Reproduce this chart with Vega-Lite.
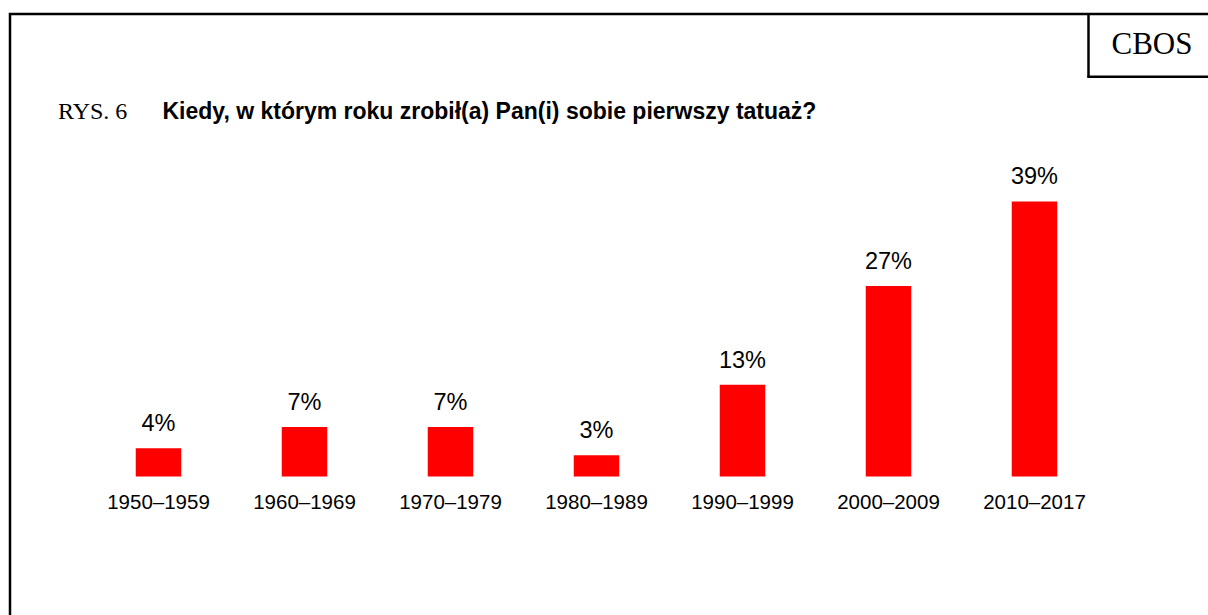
{
  "$schema": "https://vega.github.io/schema/vega-lite/v6.json",
  "width": 1208,
  "height": 615,
  "autosize": {"type": "fit", "contains": "padding"},
  "padding": {"left": 10, "top": 12, "right": -3, "bottom": -3},
  "background": "white",
  "config": {"view": {"stroke": "black", "strokeWidth": 2.5}, "font": "Liberation Sans"},
  "data": {"values": [
    {"okres": "1950–1959", "procent": 4},
    {"okres": "1960–1969", "procent": 7},
    {"okres": "1970–1979", "procent": 7},
    {"okres": "1980–1989", "procent": 3},
    {"okres": "1990–1999", "procent": 13},
    {"okres": "2000–2009", "procent": 27},
    {"okres": "2010–2017", "procent": 39}
  ]},
  "layer": [
    {
      "mark": {"type": "bar", "color": "#ff0000"},
      "encoding": {
        "x": {"field": "okres", "type": "nominal", "sort": null, "axis": null,
              "scale": {"paddingInner": 0.6884, "paddingOuter": 0.9572, "align": 0.4499, "round": false}},
        "y": {"field": "procent", "type": "quantitative", "axis": null,
              "scale": {"domain": [-20.065, 65.565], "nice": false, "zero": false}}
      }
    },
    {
      "transform": [{"calculate": "datum.procent + '%'", "as": "etykieta"}],
      "mark": {"type": "text", "fontSize": 23.5, "font": "Liberation Sans", "baseline": "alphabetic", "dy": -17, "color": "black"},
      "encoding": {
        "x": {"field": "okres", "type": "nominal", "sort": null},
        "y": {"field": "procent", "type": "quantitative"},
        "text": {"field": "etykieta"}
      }
    },
    {
      "mark": {"type": "text", "fontSize": 20.5, "font": "Liberation Sans", "baseline": "alphabetic", "dy": 33, "color": "black"},
      "encoding": {
        "x": {"field": "okres", "type": "nominal", "sort": null},
        "y": {"datum": 0},
        "text": {"field": "okres"}
      }
    },
    {
      "data": {"values": [{"tekst": "RYS. 6"}]},
      "mark": {"type": "text", "fontSize": 24, "font": "Liberation Serif", "align": "left", "baseline": "alphabetic", "dx": -100.5, "color": "black"},
      "encoding": {
        "x": {"datum": "1950–1959"},
        "y": {"datum": 50.63},
        "text": {"field": "tekst"}
      }
    },
    {
      "data": {"values": [{"tekst": "Kiedy, w którym roku zrobił(a) Pan(i) sobie pierwszy tatuaż?"}]},
      "mark": {"type": "text", "fontSize": 23, "fontWeight": "bold", "font": "Liberation Sans", "align": "left", "baseline": "alphabetic", "dx": 4, "color": "black"},
      "encoding": {
        "x": {"datum": "1950–1959"},
        "y": {"datum": 50.63},
        "text": {"field": "tekst"}
      }
    },
    {
      "data": {"values": [{"tekst": "CBOS"}]},
      "mark": {"type": "text", "fontSize": 31, "font": "Liberation Serif", "align": "left", "baseline": "alphabetic", "dx": 77, "color": "black"},
      "encoding": {
        "x": {"datum": "2010–2017"},
        "y": {"datum": 59.96},
        "text": {"field": "tekst"}
      }
    },
    {
      "data": {"values": [{"ramka": "CBOS"}]},
      "mark": {"type": "rule", "color": "black", "strokeWidth": 2.5, "xOffset": 54},
      "encoding": {
        "x": {"datum": "2010–2017"},
        "y": {"datum": 65.565},
        "y2": {"datum": 56.66}
      }
    },
    {
      "data": {"values": [{"ramka": "CBOS"}]},
      "mark": {"type": "rule", "color": "black", "strokeWidth": 2.5, "xOffset": 52.75, "x2Offset": 174},
      "encoding": {
        "x": {"datum": "2010–2017"},
        "x2": {"datum": "2010–2017"},
        "y": {"datum": 56.66}
      }
    }
  ]
}
